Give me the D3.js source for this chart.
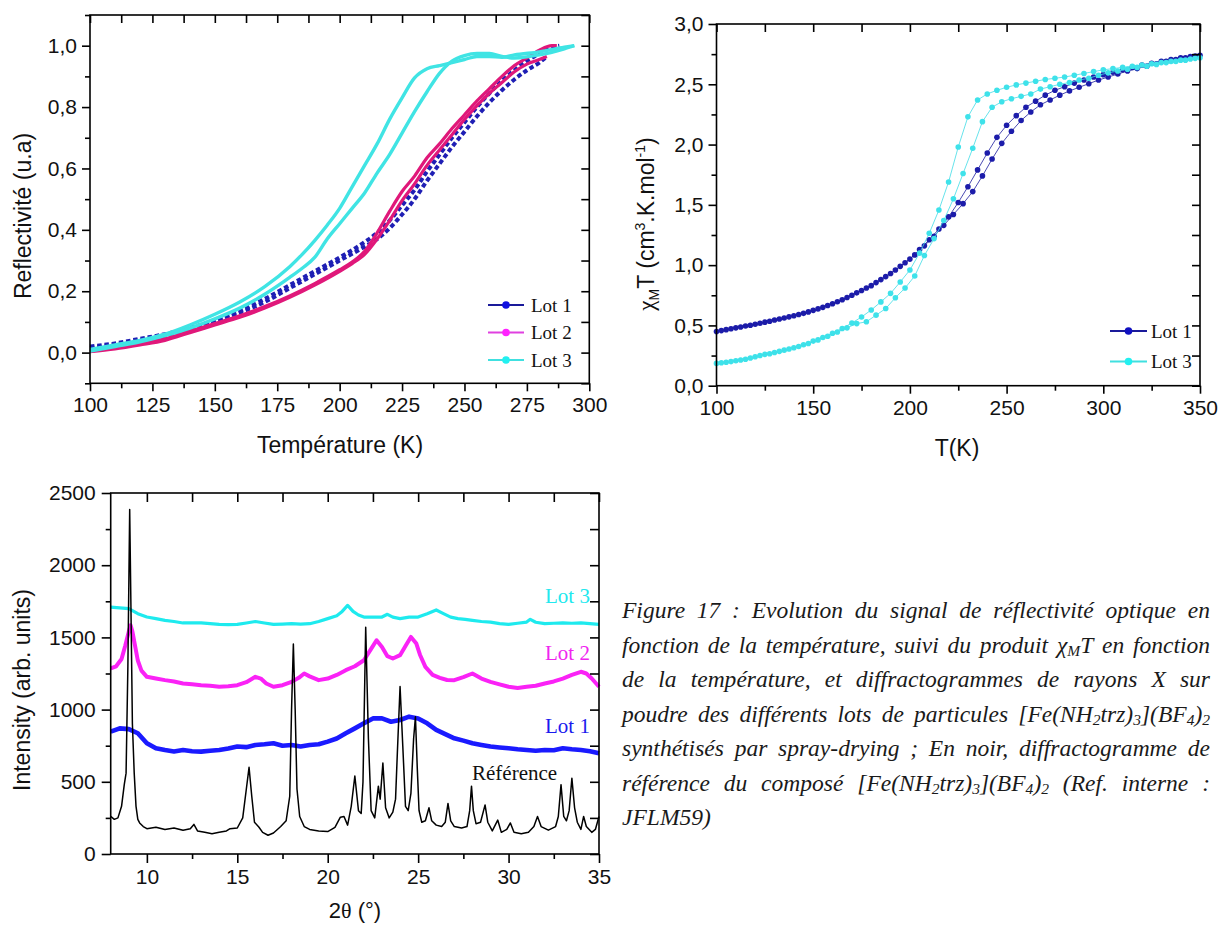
<!DOCTYPE html>
<html><head><meta charset="utf-8">
<script src="https://cdn.jsdelivr.net/npm/d3@7"></script>
<style>body{margin:0;background:#fff}svg{display:block}</style>
</head><body>
<svg id="fig" width="1226" height="926"></svg>
<script>
// ---------------- Panel 1 data: reflectivity ----------------
const reflTicksX = [100,125,150,175,200,225,250,275,300];
const reflTicksY = [0,0.2,0.4,0.6,0.8,1.0];
const reflLot1UpTemp = [100,110,120,130,140,150,160,170,180,190,200,210,215,220,225,230,235,240,245,250,255,260,265,270,275,280,285,288];
const reflLot1Up     = [0.02,0.03,0.045,0.06,0.08,0.105,0.135,0.175,0.22,0.265,0.31,0.36,0.39,0.43,0.48,0.53,0.59,0.645,0.70,0.75,0.80,0.845,0.885,0.92,0.95,0.975,0.995,1.0];
const reflLot1DownTemp = [100,110,120,130,140,150,160,170,180,190,200,210,215,220,225,230,235,240,245,250,255,260,265,270,275,280,283];
const reflLot1Down     = [0.015,0.025,0.04,0.055,0.075,0.10,0.13,0.165,0.21,0.255,0.30,0.345,0.37,0.405,0.45,0.50,0.56,0.615,0.67,0.72,0.77,0.815,0.855,0.89,0.92,0.945,0.965];
const reflLot2UpTemp = [100,110,120,130,140,150,160,170,180,190,200,205,210,215,220,225,230,235,240,245,250,255,260,265,270,275,280,285,287];
const reflLot2Up     = [0.005,0.015,0.028,0.045,0.07,0.095,0.12,0.15,0.185,0.225,0.27,0.295,0.33,0.39,0.46,0.525,0.575,0.635,0.68,0.73,0.775,0.82,0.86,0.90,0.935,0.96,0.985,1.0,1.0];
const reflLot2DownTemp = [100,110,120,130,140,150,160,170,180,190,200,205,210,215,220,225,230,235,240,245,250,255,260,265,270,275,280,283];
const reflLot2Down     = [0.003,0.012,0.025,0.04,0.065,0.09,0.115,0.145,0.18,0.22,0.265,0.29,0.32,0.37,0.43,0.495,0.55,0.61,0.66,0.71,0.76,0.805,0.845,0.88,0.915,0.94,0.955,0.965];
const reflLot3Temp = [100,110,120,130,140,150,160,170,180,185,190,195,200,205,210,215,220,225,230,235,240,245,250,255,260,265,270,280,290,294];
const reflLot3Cool = [0.01,0.025,0.04,0.06,0.09,0.125,0.165,0.215,0.28,0.32,0.365,0.415,0.47,0.54,0.61,0.68,0.76,0.83,0.895,0.925,0.935,0.945,0.955,0.965,0.965,0.962,0.97,0.98,0.995,1.0];
const reflLot3Heat = [0.005,0.02,0.035,0.055,0.08,0.11,0.145,0.19,0.245,0.275,0.31,0.37,0.42,0.47,0.52,0.585,0.645,0.715,0.785,0.85,0.91,0.95,0.968,0.975,0.975,0.965,0.96,0.97,0.99,1.0];

// ---------------- Panel 2 data: chiMT ----------------
const magTicksX = [100,150,200,250,300,350];
const magTicksY = [0,0.5,1.0,1.5,2.0,2.5,3.0];
const magTempA = [100,105,110,115,120,125,130,135,140,145,150,155,160,165,170,175,180,185,190,195,200,205,210,215,220,225,230,235,240,245,250,255,260,265,270,275,280,285,290,295,300,305,310,315,320,325,330,335,340,345,350];
const magTempB = [102.5,107.5,112.5,117.5,122.5,127.5,132.5,137.5,142.5,147.5,152.5,157.5,162.5,167.5,172.5,177.5,182.5,187.5,192.5,197.5,202.5,207.5,212.5,217.5,222.5,227.5,232.5,237.5,242.5,247.5,252.5,257.5,262.5,267.5,272.5,277.5,282.5,287.5,292.5,297.5,302.5,307.5,312.5,317.5,322.5,327.5,332.5,337.5,342.5,347.5];
const magLot1A = [0.45,0.465,0.48,0.495,0.51,0.527,0.545,0.562,0.58,0.60,0.625,0.65,0.68,0.713,0.75,0.79,0.83,0.88,0.93,0.99,1.05,1.13,1.21,1.30,1.40,1.52,1.65,1.79,1.93,2.06,2.16,2.24,2.31,2.36,2.41,2.45,2.48,2.51,2.535,2.56,2.58,2.60,2.62,2.64,2.66,2.675,2.69,2.705,2.72,2.73,2.74];
const magLot1B = [0.457,0.472,0.487,0.502,0.518,0.535,0.553,0.571,0.59,0.612,0.637,0.665,0.696,0.731,0.77,0.81,0.855,0.905,0.96,1.02,1.085,1.16,1.24,1.33,1.42,1.51,1.61,1.74,1.88,2.01,2.11,2.20,2.27,2.33,2.37,2.41,2.445,2.475,2.505,2.535,2.56,2.585,2.61,2.63,2.65,2.67,2.69,2.705,2.72,2.735];
const magLot3A = [0.185,0.195,0.207,0.22,0.24,0.26,0.275,0.295,0.315,0.34,0.37,0.40,0.435,0.475,0.52,0.57,0.628,0.695,0.766,0.86,0.96,1.10,1.264,1.457,1.69,1.98,2.23,2.37,2.42,2.45,2.475,2.495,2.51,2.525,2.54,2.55,2.56,2.575,2.59,2.605,2.62,2.63,2.64,2.65,2.66,2.67,2.68,2.69,2.70,2.71,2.72];
const magLot3B = [0.19,0.20,0.213,0.23,0.25,0.265,0.285,0.305,0.325,0.35,0.38,0.41,0.445,0.48,0.515,0.53,0.585,0.64,0.73,0.81,0.91,1.08,1.22,1.37,1.55,1.76,1.97,2.19,2.31,2.355,2.38,2.40,2.42,2.46,2.48,2.50,2.515,2.535,2.55,2.575,2.595,2.61,2.625,2.64,2.65,2.665,2.68,2.69,2.70,2.715];

// ---------------- Panel 3 data: XRD ----------------
const xrdTicksX = [10,15,20,25,30,35];
const xrdTicksY = [0,500,1000,1500,2000,2500];
const refAngle = [8.0,8.2,8.4,8.6,8.75,8.85,8.95,9.05,9.12,9.2,9.3,9.4,9.5,9.6,9.8,10,10.5,11,11.5,12,12.4,12.6,12.8,13.2,13.6,14,14.4,14.6,15,15.3,15.5,15.65,15.8,15.95,16.2,16.4,16.7,17,17.4,17.7,17.9,18.0,18.1,18.2,18.3,18.45,18.7,19,19.5,20,20.4,20.7,20.9,21.1,21.3,21.5,21.7,21.85,21.95,22.1,22.25,22.4,22.6,22.8,22.9,23.05,23.2,23.4,23.6,23.75,23.85,24.0,24.15,24.3,24.45,24.6,24.75,24.85,24.95,25.05,25.2,25.4,25.6,25.75,26.0,26.3,26.5,26.65,26.8,27.0,27.4,27.7,27.85,27.95,28.05,28.2,28.45,28.7,28.85,29.1,29.4,29.6,29.9,30.1,30.3,30.7,31.1,31.4,31.6,31.8,32.2,32.6,32.75,32.9,33.05,33.2,33.35,33.5,33.65,33.8,34.0,34.15,34.3,34.6,34.8,35];
const refIntensity = [260,240,250,330,480,560,1300,2385,1700,900,560,330,240,215,190,175,185,170,180,165,175,205,160,150,140,150,160,175,180,250,450,600,400,220,185,150,130,145,190,230,400,1000,1455,1000,450,260,190,170,160,155,185,255,260,200,330,540,300,280,500,1570,800,300,250,470,380,630,320,250,290,380,700,1160,750,330,300,420,800,950,600,300,220,230,320,230,200,190,220,350,230,190,180,190,300,470,300,210,220,340,220,160,235,150,170,215,150,140,150,190,260,190,165,190,260,480,260,230,300,525,320,220,170,260,190,150,170,260];
const lot1Angle = [8,8.5,9,9.5,10,10.5,11,11.5,12,12.5,13,13.5,14,14.5,15,15.5,16,16.5,17,17.5,18,18.5,19,19.5,20,20.5,21,21.5,22,22.5,23,23.5,24,24.5,25,25.5,26,26.5,27,27.5,28,28.5,29,29.5,30,30.5,31,31.5,32,32.5,33,33.5,34,34.5,35];
const lot1Intensity = [847,870,865,836,767,732,720,710,720,712,709,715,720,730,744,740,755,760,767,750,755,745,755,760,778,800,836,870,905,939,939,916,928,951,939,905,859,830,801,785,767,755,744,738,732,725,720,715,720,718,732,725,720,712,698];
const lot2Angle = [8,8.3,8.6,8.8,9.0,9.1,9.2,9.35,9.5,9.7,10,10.5,11,11.5,12,12.5,13,13.5,14,14.5,15,15.5,16,16.3,16.6,17,17.5,18,18.4,18.7,19,19.5,20,20.5,21,21.5,22,22.4,22.7,23.0,23.3,23.6,24,24.3,24.6,24.9,25.1,25.4,25.8,26.2,26.6,27,27.5,28,28.5,29,29.5,30,30.5,31,31.5,32,32.5,33,33.5,34,34.3,34.6,35];
const lot2Intensity = [1285,1300,1350,1440,1540,1584,1540,1440,1340,1270,1227,1215,1204,1195,1181,1175,1169,1165,1158,1162,1169,1190,1227,1215,1181,1158,1169,1192,1220,1250,1230,1204,1215,1240,1273,1300,1342,1420,1480,1434,1370,1354,1377,1440,1503,1457,1380,1296,1240,1220,1205,1204,1225,1250,1215,1192,1175,1158,1150,1158,1165,1181,1195,1215,1240,1262,1250,1215,1158];
const lot3Angle = [8,8.5,9,9.5,10,10.5,11,11.5,12,12.5,13,13.5,14,14.5,15,15.5,16,16.5,17,17.5,18,18.5,19,19.5,20,20.5,20.8,21.1,21.4,21.7,22,22.5,23,23.3,23.6,24,24.5,25,25.5,26,26.4,26.8,27.2,27.6,28,28.5,29,29.5,30,30.5,31,31.2,31.5,32,32.5,33,33.5,34,34.5,35];
const lot3Intensity = [1710,1705,1699,1664,1641,1630,1618,1610,1600,1600,1600,1595,1590,1588,1590,1600,1610,1600,1590,1592,1595,1592,1595,1610,1630,1650,1680,1722,1680,1655,1641,1640,1641,1660,1640,1630,1640,1641,1664,1690,1665,1640,1630,1625,1618,1610,1606,1595,1590,1598,1606,1625,1605,1595,1598,1600,1598,1600,1595,1590];

// ---------------- Caption ----------------
const captionLines = [
  "Figure 17 : Evolution du signal de réflectivité optique en",
  "fonction de la température, suivi du produit χ_{M}T en fonction",
  "de la température, et diffractogrammes de rayons X sur",
  "poudre des différents lots de particules [Fe(NH_{2}trz)_{3}](BF_{4})_{2}",
  "synthétisés par spray-drying ; En noir, diffractogramme de",
  "référence du composé [Fe(NH_{2}trz)_{3}](BF_{4})_{2}  (Ref. interne :",
  "JFLM59)"
];

const SANS = "'Liberation Sans', Arial, sans-serif";
const SERIF = "'Liberation Serif', 'Times New Roman', serif";
const svg = d3.select("#fig");
svg.append("rect").attr("width",1226).attr("height",926).attr("fill","#fff");

function zip(a,b){ return a.map((v,i)=>[v,b[i]]); }
function midpoints(t){ const r=[]; for(let i=0;i<t.length-1;i++) r.push((t[i]+t[i+1])/2); return r; }

function drawFrame(g, x, y, o){
  const [x0,x1]=x.range(), [y0,y1]=y.range();
  const sw = 1.6;
  const style = sel => { sel.select(".domain").remove(); sel.selectAll("line").attr("stroke","#000").attr("stroke-width",sw); sel.selectAll("text").attr("font-family",SANS).attr("font-size",o.fs).attr("fill","#111"); };
  g.append("g").attr("transform",`translate(0,${y0})`).call(d3.axisBottom(x).tickValues(o.xt).tickFormat(o.fx).tickSize(o.maj).tickPadding(o.padX)).call(style);
  g.append("g").attr("transform",`translate(0,${y0})`).call(d3.axisBottom(x).tickValues(midpoints(o.xt).concat(o.xextra||[])).tickFormat("").tickSize(o.min)).call(style);
  g.append("g").attr("transform",`translate(0,${y1})`).call(d3.axisBottom(x).tickValues(o.xt.concat(midpoints(o.xt))).tickFormat("").tickSize(o.maj)).call(style);
  g.append("g").attr("transform",`translate(${x0},0)`).call(d3.axisLeft(y).tickValues(o.yt).tickFormat(o.fy).tickSize(o.maj).tickPadding(o.padY)).call(style);
  g.append("g").attr("transform",`translate(${x0},0)`).call(d3.axisLeft(y).tickValues(midpoints(o.yt).concat(o.yextra||[])).tickFormat("").tickSize(o.min)).call(style);
  g.append("g").attr("transform",`translate(${x1},0)`).call(d3.axisLeft(y).tickValues(o.yt.concat(midpoints(o.yt)).concat(o.yextra||[])).tickFormat("").tickSize(o.maj)).call(style);
  g.append("rect").attr("x",x0).attr("y",y1).attr("width",x1-x0).attr("height",y0-y1).attr("fill","none").attr("stroke","#000").attr("stroke-width",sw);
}
const comma = d => d3.format(".1f")(d).replace(".",",");

// ================= Panel 1 =================
{
  const x = d3.scaleLinear().domain([100,300]).range([90,589.3]);
  const y = d3.scaleLinear().domain([-0.1,1.1]).range([383.3,15]);
  const g = svg.append("g");
  const line = d3.line().x(d=>x(d[0])).y(d=>y(d[1])).curve(d3.curveMonotoneX);
  const c1="#1f1fb4", c2="#e0187a", c3="#40e4e4";
  [[reflLot1UpTemp,reflLot1Up],[reflLot1DownTemp,reflLot1Down]].forEach(([t,v])=>{
    g.append("path").attr("d",line(zip(t,v))).attr("fill","none").attr("stroke",c1).attr("stroke-width",4).attr("stroke-dasharray","4.5,2.8");
  });
  [[reflLot2UpTemp,reflLot2Up],[reflLot2DownTemp,reflLot2Down]].forEach(([t,v])=>{
    g.append("path").attr("d",line(zip(t,v))).attr("fill","none").attr("stroke",c2).attr("stroke-width",3.2);
  });
  [reflLot3Cool,reflLot3Heat].forEach(v=>{
    g.append("path").attr("d",line(zip(reflLot3Temp,v))).attr("fill","none").attr("stroke",c3).attr("stroke-width",3.4);
  });
  drawFrame(g,x,y,{xt:reflTicksX,yt:reflTicksY,fx:d3.format("d"),fy:comma,fs:21,maj:8,min:5,padX:6,padY:5,yextra:[-0.1,1.1]});
  const leg = [["Lot 1","#1a1a9a","#1010e0",305],["Lot 2","#e040e0","#ff22ff",332.5],["Lot 3","#40e0e0","#22f0f0",360]];
  leg.forEach(([t,lc,dc,yy])=>{
    g.append("line").attr("x1",488).attr("x2",524).attr("y1",yy).attr("y2",yy).attr("stroke",lc).attr("stroke-width",2);
    g.append("circle").attr("cx",506).attr("cy",yy).attr("r",3.8).attr("fill",dc);
    g.append("text").attr("x",531).attr("y",yy).attr("dy","0.35em").attr("font-family",SERIF).attr("font-size",19).attr("fill","#111").text(t);
  });
  g.append("text").attr("x",340).attr("y",445).attr("dy","0.35em").attr("text-anchor","middle").attr("font-family",SANS).attr("font-size",23).attr("fill","#111").text("Température (K)");
  g.append("text").attr("transform","translate(23,216) rotate(-90)").attr("dy","0.35em").attr("text-anchor","middle").attr("font-family",SANS).attr("font-size",23).attr("fill","#111").text("Reflectivité (u.a)");
}

// ================= Panel 2 =================
{
  const x = d3.scaleLinear().domain([100,350]).range([716.5,1200]);
  const y = d3.scaleLinear().domain([0,3]).range([385.7,24]);
  const g = svg.append("g");
  const line = d3.line().x(d=>x(d[0])).y(d=>y(d[1]));
  const series = [
    [magTempA,magLot1A,"#1c1c9e","#1c1caa"],[magTempB,magLot1B,"#1c1c9e","#1c1caa"],
    [magTempA,magLot3A,"#40dce6","#3ee2ea"],[magTempB,magLot3B,"#40dce6","#3ee2ea"]
  ];
  series.forEach(([t,v,lc,dc])=>{
    const pts = zip(t,v);
    g.append("path").attr("d",line(pts)).attr("fill","none").attr("stroke",lc).attr("stroke-width",0.8);
    g.selectAll(null).data(pts).enter().append("circle").attr("cx",d=>x(d[0])).attr("cy",d=>y(d[1])).attr("r",2.8).attr("fill",dc);
  });
  drawFrame(g,x,y,{xt:magTicksX,yt:magTicksY,fx:d3.format("d"),fy:comma,fs:21,maj:8,min:5,padX:6,padY:5});
  const leg = [["Lot 1","#1a1a9a","#1010c0",331],["Lot 3","#40e0e0","#22f0f0",361.5]];
  leg.forEach(([t,lc,dc,yy])=>{
    g.append("line").attr("x1",1110).attr("x2",1147).attr("y1",yy).attr("y2",yy).attr("stroke",lc).attr("stroke-width",2);
    g.append("circle").attr("cx",1128.5).attr("cy",yy).attr("r",3.8).attr("fill",dc);
    g.append("text").attr("x",1151).attr("y",yy).attr("dy","0.35em").attr("font-family",SERIF).attr("font-size",19).attr("fill","#111").text(t);
  });
  g.append("text").attr("x",957).attr("y",448).attr("dy","0.35em").attr("text-anchor","middle").attr("font-family",SANS).attr("font-size",23).attr("fill","#111").text("T(K)");
  const yl = g.append("text").attr("transform","translate(646,224) rotate(-90)").attr("dy","0.35em").attr("text-anchor","middle").attr("font-family",SANS).attr("font-size",23).attr("fill","#111");
  yl.append("tspan").attr("font-family",SERIF).text("χ");
  yl.append("tspan").attr("font-size",14).attr("dy",5).text("M");
  yl.append("tspan").attr("dy",-5).text("T (cm");
  yl.append("tspan").attr("font-size",14).attr("dy",-9).text("3");
  yl.append("tspan").attr("dy",9).text(".K.mol");
  yl.append("tspan").attr("font-size",14).attr("dy",-9).text("-1");
  yl.append("tspan").attr("dy",9).text(")");
}

// ================= Panel 3 =================
{
  const x = d3.scaleLinear().domain([8,35]).range([110.7,599]);
  const y = d3.scaleLinear().domain([0,2500]).range([854,493]);
  const g = svg.append("g");
  const line = d3.line().x(d=>x(d[0])).y(d=>y(d[1]));
  g.append("path").attr("d",line(zip(lot3Angle,lot3Intensity))).attr("fill","none").attr("stroke","#1eeaee").attr("stroke-width",3.2).attr("stroke-linejoin","round");
  g.append("path").attr("d",line(zip(lot2Angle,lot2Intensity))).attr("fill","none").attr("stroke","#fa22f6").attr("stroke-width",4).attr("stroke-linejoin","round");
  g.append("path").attr("d",line(zip(lot1Angle,lot1Intensity))).attr("fill","none").attr("stroke","#1a1aff").attr("stroke-width",4.6).attr("stroke-linejoin","round");
  g.append("path").attr("d",line(zip(refAngle,refIntensity))).attr("fill","none").attr("stroke","#000").attr("stroke-width",1.5).attr("stroke-linejoin","round");
  drawFrame(g,x,y,{xt:xrdTicksX,yt:xrdTicksY,fx:d3.format("d"),fy:d3.format("d"),fs:21,maj:9,min:5,padX:6,padY:6});
  const labs = [["Lot 3","#22e8ee",545,596],["Lot 2","#f025f0",545,653],["Lot 1","#1a1aee",545,726],["Référence","#111",472,773]];
  labs.forEach(([t,c,xx,yy])=>{
    g.append("text").attr("x",xx).attr("y",yy).attr("dy","0.35em").attr("font-family",SERIF).attr("font-size",21).attr("fill",c).text(t);
  });
  const xl = g.append("text").attr("x",355).attr("y",910).attr("dy","0.35em").attr("text-anchor","middle").attr("font-family",SANS).attr("font-size",22).attr("fill","#111");
  xl.append("tspan").text("2");
  xl.append("tspan").attr("font-family",SERIF).text("θ");
  xl.append("tspan").text(" (°)");
  g.append("text").attr("transform","translate(22,690) rotate(-90)").attr("dy","0.35em").attr("text-anchor","middle").attr("font-family",SANS).attr("font-size",23).attr("fill","#111").text("Intensity (arb. units)");
}

// ================= Caption =================
{
  const X0 = 622, X1 = 1210, Y0 = 618, LH = 34.5;
  // size the font so that the longest line fits in the column with normal word spacing
  const probe = svg.append("g").attr("font-family",SERIF).attr("font-style","italic").attr("font-size",20);
  let maxW = 0;
  captionLines.slice(0,-1).forEach(ln=>{
    const t = probe.append("text").text(ln.replace(/_\{([^}]*)\}/g,"$1"));
    maxW = Math.max(maxW, t.node().getComputedTextLength());
  });
  probe.remove();
  const FS = Math.min(26, 20 * (X1 - X0) / (maxW + 8));
  const g = svg.append("g").attr("font-family",SERIF).attr("font-style","italic").attr("font-size",FS).attr("fill","#1a1a1a");
  function addWord(parent, word){
    const t = parent.append("text");
    const parts = word.split(/(_\{[^}]*\})/).filter(s=>s.length);
    let shifted = false;
    parts.forEach(p=>{
      const m = p.match(/^_\{([^}]*)\}$/);
      if(m){ t.append("tspan").attr("font-size",FS*0.66).attr("dy", shifted?0:3).text(m[1]); shifted = true; }
      else { t.append("tspan").attr("dy", shifted?-3:0).text(p); shifted=false; }
    });
    return t;
  }
  captionLines.forEach((ln,i)=>{
    const words = ln.split(/\s+/).filter(s=>s.length);
    const yy = Y0 + i*LH;
    const els = words.map(w=>addWord(g,w).attr("y",yy));
    const widths = els.map(e=>e.node().getComputedTextLength());
    const last = i===captionLines.length-1;
    const total = d3.sum(widths);
    const gap = last ? FS*0.25 : (X1-X0-total)/(words.length-1);
    let cx = X0;
    els.forEach((e,k)=>{ e.attr("x",cx); cx += widths[k]+gap; });
  });
}
</script>
</body></html>
